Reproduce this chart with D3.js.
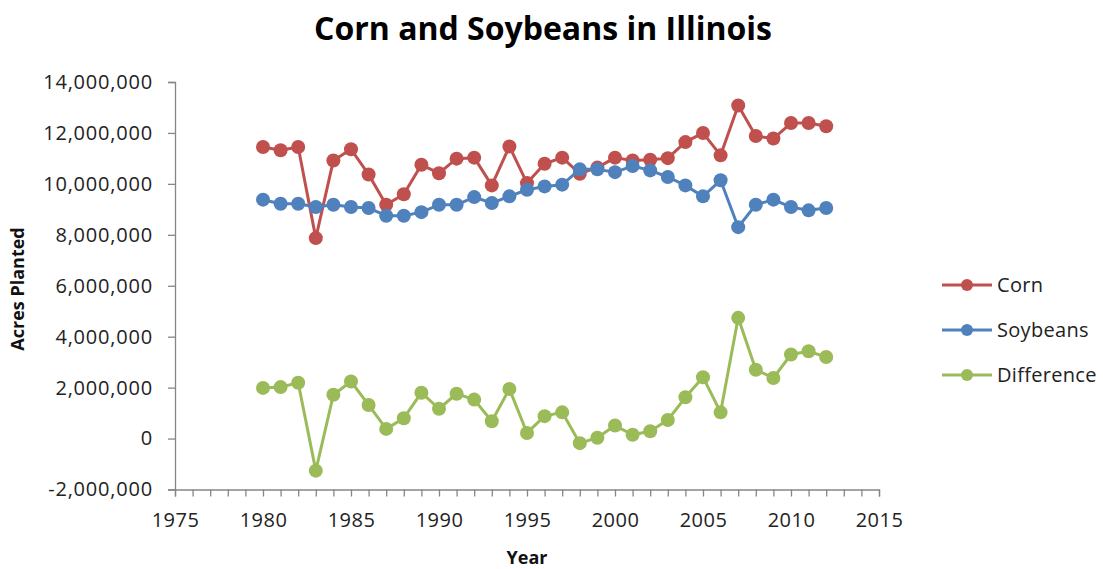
<!DOCTYPE html>
<html>
<head>
<meta charset="utf-8">
<script src="https://cdn.jsdelivr.net/npm/d3@7"></script>
<style>
  html, body { margin: 0; padding: 0; background: #fff; }
  svg { display: block; }
  text { font-family: "Open Sans", "Liberation Sans", sans-serif; fill: #222; }
</style>
</head>
<body>
<svg id="chart" width="1103" height="569"></svg>
<script>
const years = [1980,1981,1982,1983,1984,1985,1986,1987,1988,1989,1990,1991,1992,1993,1994,1995,1996,1997,1998,1999,2000,2001,2002,2003,2004,2005,2006,2007,2008,2009,2010,2011,2012];
const corn = [11450000,11320000,11450000,7870000,10920000,11360000,10370000,9180000,9590000,10750000,10420000,10990000,11030000,9940000,11470000,10030000,10790000,11030000,10400000,10640000,11030000,10920000,10950000,11010000,11640000,12000000,11120000,13080000,11880000,11780000,12390000,12390000,12260000];
const soybeans = [9380000,9220000,9220000,9090000,9180000,9090000,9050000,8750000,8750000,8890000,9180000,9180000,9480000,9250000,9510000,9770000,9900000,9970000,10570000,10570000,10460000,10700000,10530000,10270000,9940000,9510000,10140000,8300000,9180000,9380000,9090000,8960000,9050000];
const difference = [1990000,2020000,2190000,-1260000,1720000,2240000,1320000,380000,800000,1800000,1170000,1760000,1530000,680000,1950000,220000,880000,1030000,-180000,30000,510000,150000,290000,730000,1620000,2410000,1030000,4740000,2700000,2380000,3300000,3430000,3200000];
const yTicks = [-2000000,0,2000000,4000000,6000000,8000000,10000000,12000000,14000000];
const xTicks = [1975,1980,1985,1990,1995,2000,2005,2010,2015];
const seriesNames = ["Corn","Soybeans","Difference"];
const seriesColors = ["#C0504D","#4F81BD","#9BBB59"];
const title = "Corn and Soybeans in Illinois";
const xTitle = "Year";
const yTitle = "Acres Planted";

const svg = d3.select("#chart");
const x = d3.scaleLinear().domain([1975, 2015]).range([175, 879]);
const y = d3.scaleLinear().domain([-2000000, 14000000]).range([489.5, 82]);
const axisColor = "#868686";
const fmt = d3.formatLocale({decimal: ".", thousands: ",", grouping: [3], currency: ["$", ""], minus: "-"}).format(",");

// Title
svg.append("text").attr("x", 543).attr("y", 40).attr("text-anchor", "middle")
  .style("font-size", "32px").style("font-weight", "bold").style("fill", "#000")
  .text(title);

// Y axis
const yAxis = svg.append("g").attr("transform", "translate(175,0)")
  .call(d3.axisLeft(y).tickValues(yTicks).tickSize(7).tickPadding(15).tickFormat(fmt));
yAxis.select(".domain").attr("stroke", axisColor).attr("stroke-width", 1.3);
yAxis.selectAll(".tick line").attr("stroke", axisColor).attr("stroke-width", 1.3);
yAxis.selectAll(".tick text").style("font-size", "20px").style("letter-spacing", "0.8px")
  .style("font-family", "'Open Sans', sans-serif").attr("fill", "#222");

// X axis with ticks at every year
const allYears = d3.range(1975, 2016);
const xAxis = svg.append("g").attr("transform", `translate(0,${y(-2000000)})`)
  .call(d3.axisBottom(x).tickValues(allYears).tickSize(7).tickPadding(16)
    .tickFormat(d => xTicks.includes(d) ? String(d) : ""));
xAxis.select(".domain").attr("stroke", axisColor).attr("stroke-width", 1.3);
xAxis.selectAll(".tick line").attr("stroke", axisColor).attr("stroke-width", 1.3);
xAxis.selectAll(".tick text").style("font-size", "20px").style("letter-spacing", "0.5px")
  .style("font-family", "'Open Sans', sans-serif").attr("fill", "#222");

// Axis titles
svg.append("text").attr("x", 527).attr("y", 564).attr("text-anchor", "middle")
  .style("font-size", "18px").style("font-weight", "bold").style("fill", "#111").text(xTitle);
svg.append("text").attr("transform", "translate(24,289) rotate(-90)").attr("text-anchor", "middle")
  .style("font-size", "18px").style("font-weight", "bold").style("fill", "#111").text(yTitle);

// Series
const allSeries = [corn, soybeans, difference];
const line = d3.line().x((d, i) => x(years[i])).y(d => y(d));
allSeries.forEach((vals, si) => {
  const g = svg.append("g");
  g.append("path").datum(vals).attr("d", line).attr("fill", "none")
    .attr("stroke", seriesColors[si]).attr("stroke-width", 3).attr("stroke-linejoin", "round");
  g.selectAll("circle").data(vals).enter().append("circle")
    .attr("cx", (d, i) => x(years[i])).attr("cy", d => y(d)).attr("r", 7)
    .attr("fill", seriesColors[si]);
});

// Legend
const legendY = [285, 330, 375];
seriesNames.forEach((name, i) => {
  const g = svg.append("g").attr("transform", `translate(942,${legendY[i]})`);
  g.append("line").attr("x1", 0).attr("x2", 50).attr("y1", 0).attr("y2", 0)
    .attr("stroke", seriesColors[i]).attr("stroke-width", 3);
  g.append("circle").attr("cx", 25).attr("cy", 0).attr("r", 6).attr("fill", seriesColors[i]);
  g.append("text").attr("x", 55).attr("y", 0).attr("dy", "0.35em")
    .style("font-size", "20px").style("letter-spacing", "0.3px").style("fill", "#222").text(name);
});
</script>
</body>
</html>
